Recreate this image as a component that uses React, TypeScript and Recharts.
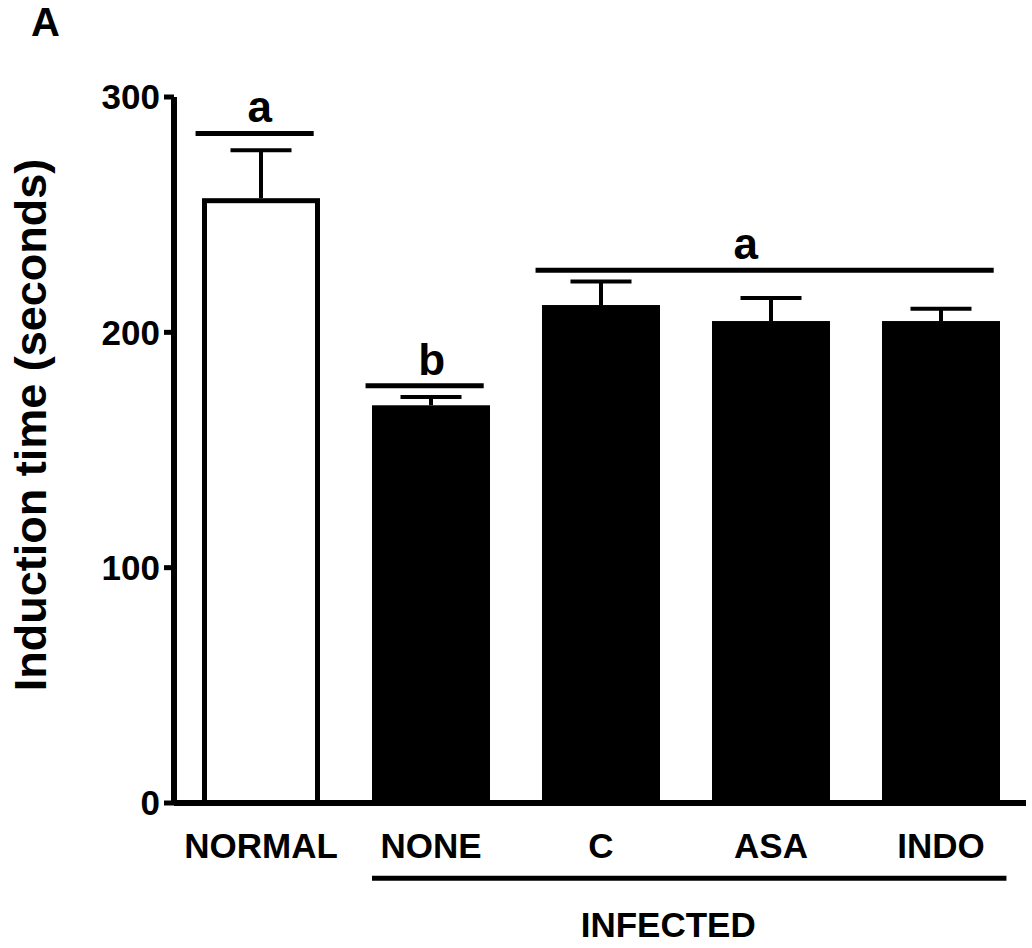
import React from 'react';
import { BarChart, Bar, XAxis, YAxis, ReferenceLine } from 'recharts';

const FONT = '"Liberation Sans", Arial, sans-serif';

const GROUPS = ['NORMAL', 'NONE', 'C', 'ASA', 'INDO'];
const MEANS = [257, 169, 211.6, 204.8, 204.8];
const SEMS = [20.4, 3.5, 10, 9.8, 5.2];
const OPEN_GROUPS = ['NORMAL'];
const Y_TICKS = [0, 100, 200, 300];

// significance bars: letter, first..last group index, height in seconds
const SIG_LETTERS = ['a', 'b', 'a'];
const SIG_FROM = [0, 1, 2];
const SIG_TO = [0, 1, 4];
const SIG_Y = [284.5, 177.3, 226.4];

// group bracket under the axis
const GROUP_LABEL = 'INFECTED';
const GROUP_FROM = 1;
const GROUP_TO = 4;
const GROUP_Y = -32;

const rows = GROUPS.map((name, i) => ({ name, mean: MEANS[i], sem: SEMS[i] }));

const SIG_PAD_L = 0.115;
const SIG_PAD_R = 0.19;
const SIG_NUDGE = [5, 7, -19];
const GRP_PAD_L = 0.153;
const GRP_PAD_R = 0.115;

// the hidden helper axis spans index 0..n-1 over the full plot width,
// so convert a position in "band units" (0..n) to it
const slot = (u: number) => (u * (GROUPS.length - 1)) / GROUPS.length;

const BarWithError = (props: any) => {
  const { x, y, width, height, payload } = props;
  const perUnit = height / payload.mean;
  const errTop = y - payload.sem * perUnit;
  const cx = x + width / 2;
  const open = OPEN_GROUPS.includes(payload.name);
  const sw = 5;
  return (
    <g>
      <line x1={cx} x2={cx} y1={y} y2={errTop} stroke="#000" strokeWidth={4} />
      <line x1={cx - 30.5} x2={cx + 30.5} y1={errTop} y2={errTop} stroke="#000" strokeWidth={4} />
      {open ? (
        <rect x={x + sw / 2} y={y + sw / 2} width={width - sw} height={height - sw / 2}
          fill="#fff" stroke="#000" strokeWidth={sw} />
      ) : (
        <rect x={x} y={y} width={width} height={height} fill="#000" />
      )}
    </g>
  );
};

const yTitle = (p: any) => {
  const vb = p.viewBox || { x: 0, y: 97, width: 174, height: 706 };
  const cx = vb.x + 30;
  const cy = vb.y + vb.height / 2 - 25;
  return (
    <text x={cx} y={cy} transform={`rotate(-90 ${cx} ${cy})`} textAnchor="middle"
      dominantBaseline="central" fill="#000" fontSize={45} fontWeight="bold" fontFamily={FONT}>
      Induction time (seconds)
    </text>
  );
};

export default function App() {
  const tickStyle = { fill: '#000', fontSize: 35, fontWeight: 'bold', fontFamily: FONT };
  return (
    <div style={{ position: 'absolute', left: 0, top: 0, width: 1032, height: 948, background: '#fff' }}>
      <div style={{ position: 'absolute', left: 31, top: 2, fontSize: 40, lineHeight: 1, fontWeight: 'bold', fontFamily: FONT }}>A</div>
      <BarChart width={1032} height={948} data={rows} margin={{ top: 97, right: 6, bottom: 0, left: 0 }}>
        <XAxis dataKey="name" height={145} padding={{ left: 2, right: 0 }}
          axisLine={{ stroke: '#000', strokeWidth: 6 }} tickLine={false} tickSize={0} tickMargin={30}
          tick={tickStyle} interval={0} />
        <XAxis xAxisId="pos" type="number" domain={[0, GROUPS.length - 1]} allowDataOverflow hide padding={{ left: 2, right: 0 }} />
        <YAxis domain={[0, 300]} ticks={Y_TICKS} width={174} interval={0}
          axisLine={{ stroke: '#000', strokeWidth: 6 }} tickLine={{ stroke: '#000', strokeWidth: 5 }}
          tickSize={10} tickMargin={4} tick={tickStyle} label={yTitle} />
        <Bar dataKey="mean" barSize={118} shape={BarWithError} isAnimationActive={false} />
        {SIG_LETTERS.map((letter, i) => (
          <ReferenceLine key={i} xAxisId="pos" ifOverflow="visible" stroke="#000" strokeWidth={5}
            segment={[{ x: slot(SIG_FROM[i] + SIG_PAD_L), y: SIG_Y[i] }, { x: slot(SIG_TO[i] + 1 - SIG_PAD_R), y: SIG_Y[i] }]}
            label={{ value: letter, position: 'top', offset: 11, dx: SIG_NUDGE[i], fill: '#000', fontSize: 44, fontWeight: 'bold', fontFamily: FONT }} />
        ))}
        <ReferenceLine xAxisId="pos" ifOverflow="visible" stroke="#000" strokeWidth={5}
          segment={[{ x: slot(GROUP_FROM + GRP_PAD_L), y: GROUP_Y }, { x: slot(GROUP_TO + 1 - GRP_PAD_R), y: GROUP_Y }]}
          label={{ value: GROUP_LABEL, position: 'bottom', offset: 34, dx: -21, fill: '#000', fontSize: 35, fontWeight: 'bold', fontFamily: FONT }} />
      </BarChart>
    </div>
  );
}
